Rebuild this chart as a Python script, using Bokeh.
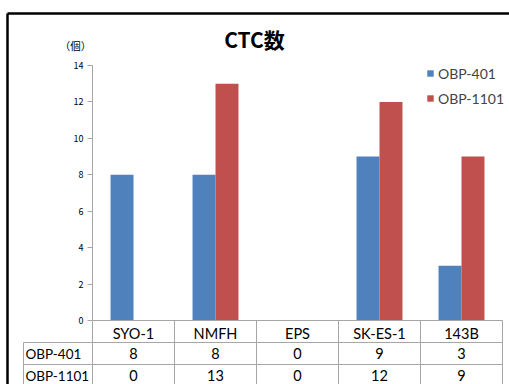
from bokeh.plotting import figure
from bokeh.models import ColumnDataSource, FixedTicker, Legend, LegendItem, Label
from bokeh.transform import dodge
from bokeh.core.properties import value
from bokeh.embed import file_html
from bokeh.resources import INLINE

# ---- data ----
categories = ["SYO-1", "NMFH", "EPS", "SK-ES-1", "143B"]
obp401 = [8, 8, 0, 9, 3]
obp1101 = [0, 13, 0, 12, 9]
series_names = ["OBP-401", "OBP-1101"]
y_ticks = [0, 2, 4, 6, 8, 10, 12, 14]
title_text = "CTC数"
unit_text = "（個）"

# ---- geometry (canvas px) ----
W, H = 509, 384
PX_X = 82.0          # px per category column
X0 = 92              # canvas x of data x=0
PX_Y = 255 / 14      # px per y unit
Y0 = 320             # canvas y of data y=0

x_start = -X0 / PX_X
x_end = (W - X0) / PX_X
y_end = Y0 / PX_Y
y_start = -(H - Y0) / PX_Y


def dx(px):  # canvas px -> data x
    return (px - X0) / PX_X


def dy(py):  # canvas px -> data y
    return (Y0 - py) / PX_Y


BLUE = "#4F81BD"
RED = "#C0504D"
GRID = "#A6A6A6"
LATO = value("Lato")

p = figure(width=W, height=H, output_backend="svg", toolbar_location=None,
           x_range=(x_start, x_end), y_range=(y_start, y_end),
           min_border=0, min_border_left=0, min_border_right=0,
           min_border_top=0, min_border_bottom=0)
p.grid.visible = False
p.outline_line_color = None
p.background_fill_color = "white"
p.border_fill_color = "white"

xpos = [i + 0.5 for i in range(len(categories))]
src = ColumnDataSource(dict(x=xpos, cat=categories, a=obp401, b=obp1101))

r1 = p.vbar(x=dodge("x", -0.14, range=p.x_range), top="a", width=0.28, source=src,
            fill_color=BLUE, line_color=None)
r2 = p.vbar(x=dodge("x", 0.14, range=p.x_range), top="b", width=0.28, source=src,
            fill_color=RED, line_color=None)

# ---- axes ----
ncat = len(categories)
xa = p.xaxis[0]
xa.fixed_location = 0
xa.bounds = (0, ncat)
xa.ticker = FixedTicker(ticks=xpos)
xa.major_label_overrides = {x: c for x, c in zip(xpos, categories)}
xa.major_tick_out = 0
xa.major_tick_in = 0
xa.minor_tick_out = 0
xa.minor_tick_in = 0
xa.axis_line_color = GRID
xa.major_label_text_font = "Lato"
xa.major_label_text_font_size = "14.5px"
xa.major_label_text_color = "black"
xa.major_label_standoff = 4

ya = p.yaxis[0]
ya.fixed_location = 0
ya.bounds = (0, 14)
ya.ticker = FixedTicker(ticks=y_ticks)
ya.major_tick_out = 5
ya.major_tick_in = 0
ya.minor_tick_out = 0
ya.minor_tick_in = 0
ya.axis_line_color = GRID
ya.major_tick_line_color = GRID
ya.major_label_text_font = "Noto Sans CJK JP"
ya.major_label_text_font_size = "9px"
ya.major_label_text_color = "black"
ya.major_label_standoff = 4

# ---- data table under the chart ----
row_top = [dy(342), dy(364)]
hx0 = dx(23)
p.segment(x0=[hx0, hx0], y0=row_top, x1=[ncat, ncat], y1=row_top,
          line_color=GRID, line_width=1)
vx = [hx0] + list(range(ncat + 1))
vy0 = [dy(342)] + [0] * (ncat + 1)
p.segment(x0=vx, y0=vy0, x1=vx, y1=[y_start] * len(vx), line_color=GRID, line_width=1)

row_c = [dy(353), dy(375)]
for vals, yc, name in zip([obp401, obp1101], row_c, series_names):
    p.text(x=xpos, y=[yc] * len(xpos), text=[str(v) for v in vals],
           text_align="center", text_baseline="middle", text_font=LATO,
           text_font_size="14.5px", text_color="black")
    p.text(x=[dx(25)], y=[yc], text=[name], text_align="left", text_baseline="middle",
           text_font=LATO, text_font_size="13.5px", text_color="black")

# ---- titles ----
p.add_layout(Label(x=dx(254), y=dy(38), text=title_text, text_font="Noto Sans CJK JP",
                   text_font_style="bold", text_font_size="21px", text_align="center",
                   text_baseline="middle", text_color="black"))
p.add_layout(Label(x=dx(75), y=dy(45), text=unit_text, text_font="Noto Sans CJK JP",
                   text_font_size="10.5px", text_align="center", text_baseline="middle",
                   text_color="black"))

# ---- black outer frame ----
fx = dx(7)
p.segment(x0=[fx, fx], y0=[dy(13), dy(13)], x1=[x_end, fx], y1=[dy(13), y_start],
          line_color="black", line_width=2.5)

# ---- legend ----
legend = Legend(items=[LegendItem(label=series_names[0], renderers=[r1]),
                       LegendItem(label=series_names[1], renderers=[r2])],
                location=(426, 276), glyph_width=8, glyph_height=8,
                label_text_font="Lato", label_text_font_size="14px",
                label_standoff=4, spacing=5, padding=0, margin=0,
                label_height=20, border_line_color=None, background_fill_alpha=0)
p.add_layout(legend)

open("out.html", "w").write(file_html(p, INLINE))
